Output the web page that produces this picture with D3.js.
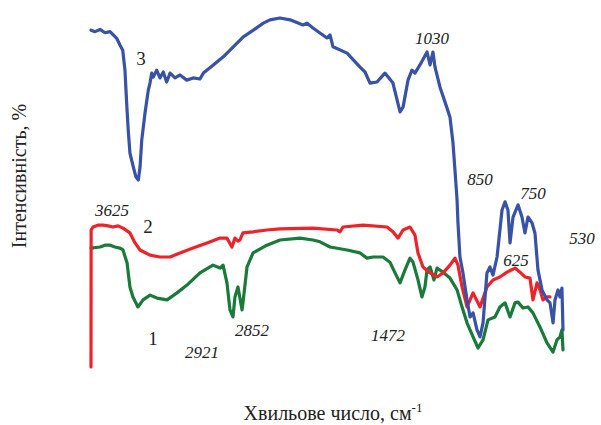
<!DOCTYPE html>
<html>
<head>
<meta charset="utf-8">
<script src="https://cdn.jsdelivr.net/npm/d3@7"></script>
<style>
  body { margin: 0; background: #fff; }
  svg { display: block; font-family: "Liberation Serif", "Times New Roman", serif; }
</style>
</head>
<body>
<div id="chart"></div>
<script>
// IR spectra, [wavenumber cm-1, intensity %] (intensity is offset / arbitrary)
const spectrum3 = [
  [4000,98.6],[3969,98.2],[3931,98.8],[3893,97.9],[3855,98.2],[3830,97.3],[3804,96.4],[3779,94.6],
  [3758,93.2],[3741,87.8],[3728,78.9],[3716,71.6],[3703,65.4],[3677,61.6],[3657,58.9],[3639,58.1],
  [3626,61.6],[3613,68.9],[3601,72.4],[3588,76.2],[3563,82.4],[3550,84.3],[3537,87.0],[3525,85.9],
  [3499,87.8],[3474,85.7],[3449,87.3],[3423,84.6],[3397,87.0],[3359,85.7],[3321,86.5],[3270,85.1],
  [3220,85.7],[3169,85.4],[3143,87.0],[3067,89.2],[2991,91.4],[2915,94.1],[2838,96.8],[2762,98.6],
  [2686,100.5],[2635,101.4],[2559,101.9],[2482,101.4],[2383,100],[2352,100.5],[2307,99.2],[2200,96.5],
  [2177,97.3],[2154,94.1],[2047,92.4],[1948,88.6],[1910,87.3],[1872,84.3],[1819,84.6],[1758,87.0],
  [1697,84.3],[1643,76.5],[1620,77.8],[1582,85.1],[1552,87.8],[1529,87.0],[1491,89.2],[1437,92.7],
  [1414,89.2],[1392,92.7],[1376,88.6],[1338,83.2],[1285,77.6],[1262,75.1],[1239,68.1],[1224,60.8],
  [1208,52.7],[1201,46.5],[1186,37.3],[1163,33.0],[1132,25.7],[1109,21.1],[1086,22.2],[1056,17.6],
  [1033,15.7],[1010,19.5],[980,33.0],[957,34.6],[934,32.4],[903,37.3],[865,50.0],[842,52.2],
  [820,50.0],[804,41.1],[781,48.1],[743,51.4],[713,48.1],[690,43.8],[667,48.1],[636,46.5],
  [614,43.8],[591,33.8],[560,28.4],[522,25.7],[499,24.9],[476,19.5],[461,25.7],[438,28.4],
  [423,26.5],[408,28.9],[400,17.6]
];

const spectrum2 = [
  [4000,7.6],[3999,44.6],[3985,45.4],[3947,45.9],[3908,45.9],[3870,45.7],[3832,45.4],[3794,45.7],
  [3756,45.1],[3703,43.8],[3664,41.1],[3626,39.2],[3550,37.8],[3474,37.3],[3397,37.3],[3321,38.4],
  [3222,39.7],[3115,41.1],[3016,42.4],[2963,42.4],[2925,40.0],[2902,42.4],[2879,41.6],[2864,41.9],
  [2841,43.8],[2764,44.1],[2658,44.6],[2558,44.9],[2307,45.1],[2124,44.6],[2101,44.1],[2078,45.4],
  [1925,45.9],[1742,45.4],[1697,44.1],[1658,42.4],[1620,44.6],[1567,45.4],[1529,43.2],[1506,38.4],
  [1468,34.6],[1414,33.0],[1361,31.9],[1315,33.0],[1262,35.1],[1224,37.0],[1201,35.1],[1170,29.2],
  [1132,23.8],[1086,27.6],[1033,23.8],[980,29.2],[934,31.1],[881,31.9],[827,33.2],[766,34.3],
  [728,33.2],[690,31.9],[652,31.6],[629,25.7],[598,30.3],[575,28.4],[553,25.7],[522,26.5],[499,26.5]
];

const spectrum1 = [
  [4000,39.7],[3931,40.0],[3893,40.5],[3855,40.5],[3817,40.0],[3779,39.7],[3756,39.2],[3725,35.7],
  [3703,29.2],[3680,26.5],[3642,23.8],[3603,25.7],[3550,27.0],[3497,26.2],[3420,25.7],[3344,27.6],
  [3268,29.7],[3169,33.0],[3070,35.1],[3016,34.3],[2993,35.1],[2963,30.3],[2940,23.0],[2917,21.1],
  [2902,26.5],[2879,29.2],[2848,23.0],[2841,24.9],[2810,34.6],[2764,38.4],[2658,40.5],[2558,41.9],
  [2406,42.4],[2307,41.9],[2253,41.4],[2177,40.0],[2047,39.2],[1948,38.4],[1895,37.0],[1849,37.3],
  [1773,37.3],[1720,35.9],[1681,33.0],[1643,30.3],[1605,33.8],[1567,37.0],[1544,35.9],[1506,31.1],
  [1476,26.5],[1453,29.2],[1437,33.8],[1414,34.6],[1384,31.1],[1361,34.3],[1315,33.2],[1262,31.6],
  [1208,28.4],[1170,23.8],[1132,19.5],[1086,15.7],[1048,12.7],[1010,14.9],[972,20.3],[919,21.1],
  [881,23.8],[842,24.9],[804,21.1],[766,24.9],[743,25.1],[705,23.5],[667,23.8],[629,22.2],
  [576,18.4],[522,14.1],[476,11.6],[446,14.9],[423,15.7],[408,17.6],[400,12.2]
];

// band annotations: text, wavenumber, intensity
const peakLabels = [
  ["3625", 3840, 48.4], ["2921", 3153, 10.0], ["2852", 2772, 15.9], ["1472", 1735, 14.6],
  ["1030", 1399, 94.9], ["850", 1033, 56.8], ["750", 629, 53.0], ["625", 759, 34.9],
  ["530", 255, 40.8]
];

// curve numbers
const curveLabels = [["3", 3619, 89.2], ["2", 3565, 43.8], ["1", 3527, 13.5]];

const xTitle = "Хвильове число, см";
const yTitle = "Інтенсивність, %";

const width = 601, height = 425;

const svg = d3.select("#chart").append("svg")
  .attr("width", width)
  .attr("height", height);

let x = d3.scaleLinear()
  .domain([4000, 400])
  .range([91, 563]);

let y = d3.scaleLinear()
  .domain([0, 100])
  .range([395, 25]);

const line = d3.line()
  .x(d => x(d[0]))
  .y(d => y(d[1]));

const series = [
  {data: spectrum1, color: "#1a7a3a"},
  {data: spectrum2, color: "#ee2229"},
  {data: spectrum3, color: "#3752a6"}
];

svg.selectAll(".spectrum")
  .data(series)
  .join("path")
    .attr("class", "spectrum")
    .attr("fill", "none")
    .attr("stroke", d => d.color)
    .attr("stroke-width", 3.2)
    .attr("stroke-linejoin", "round")
    .attr("stroke-linecap", "round")
    .attr("d", d => line(d.data));

svg.selectAll(".peak-label")
  .data(peakLabels)
  .join("text")
    .attr("class", "peak-label")
    .attr("x", d => x(d[1]))
    .attr("y", d => y(d[2]))
    .attr("text-anchor", "middle")
    .attr("font-size", 17)
    .attr("font-style", "italic")
    .attr("fill", "#222")
    .text(d => d[0]);

svg.selectAll(".curve-label")
  .data(curveLabels)
  .join("text")
    .attr("class", "curve-label")
    .attr("x", d => x(d[1]))
    .attr("y", d => y(d[2]))
    .attr("text-anchor", "middle")
    .attr("font-size", 19)
    .attr("fill", "#222")
    .text(d => d[0]);

// axis titles
let xt = svg.append("text")
  .attr("x", 333)
  .attr("y", 420)
  .attr("text-anchor", "middle")
  .attr("font-size", 20)
  .attr("fill", "#222")
  .text(xTitle);

xt.append("tspan")
  .attr("dy", -8)
  .attr("font-size", 13)
  .text("-1");

svg.append("text")
  .attr("transform", "translate(26,176) rotate(-90)")
  .attr("text-anchor", "middle")
  .attr("font-size", 20)
  .attr("fill", "#222")
  .text(yTitle);
</script>
</body>
</html>
